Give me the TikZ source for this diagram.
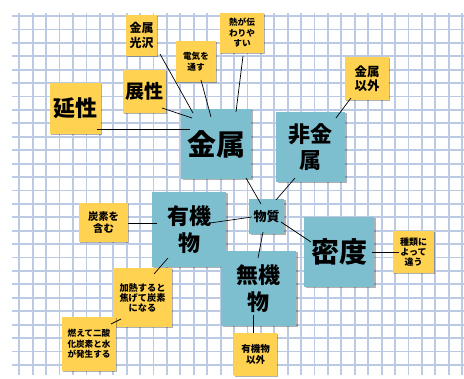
\documentclass[tikz,border=0pt]{standalone}
\usepackage{fontspec}
\setmainfont{Noto Sans CJK JP}
\usetikzlibrary{shadows}
\definecolor{yel}{HTML}{FFD252}
\definecolor{blu}{HTML}{7EBFCF}
\definecolor{gridc}{HTML}{BCCAE3}
\newcommand\fs[2]{\bfseries\fontsize{#1}{#2}\selectfont}
\tikzset{
  gridline/.style={gridc, line width=1.8pt},
  notebox/.style={fill=yel, inner sep=0pt, align=center,
    drop shadow={shadow xshift=1.3pt, shadow yshift=-1.3pt, fill=black, opacity=0.3}},
  keybox/.style={fill=blu, inner sep=0pt, align=center,
    drop shadow={shadow xshift=1.5pt, shadow yshift=-1.5pt, fill=black, opacity=0.3}},
  conn/.style={black, line width=0.7pt}
}
\begin{document}
\begin{tikzpicture}[x=1pt, y=-1pt]
\fill[white] (0,0) rectangle (464,379);
\useasboundingbox (0,0) rectangle (464,379);
% grid
\foreach \k in {0,...,26} \draw[gridline] (12,{16+13.42*\k}) -- (464,{16+13.42*\k});
\foreach \k in {0,...,33} \draw[gridline] ({19.3+13.42*\k},13) -- ({19.3+13.42*\k},375);
% yellow notes
\node[notebox, minimum width=51pt, minimum height=51pt, font=\fs{22}{26}] (entai) at (75.5,108.5) {延性};
\node[notebox, minimum width=43pt, minimum height=43pt, font=\fs{19}{22}] (tensei) at (144.5,91.5) {展性};
\node[notebox, minimum width=31pt, minimum height=41pt, font=\fs{12}{15}] (kotaku) at (141.5,35.5) {金属\\光沢};
\node[notebox, minimum width=40pt, minimum height=41pt, font=\fs{8.6}{11}] (denki) at (196,61.5) {電気を\\通す};
\node[notebox, minimum width=44pt, minimum height=40pt, font=\fs{8.6}{10.5}] (netsu) at (242,33) {熱が伝\\わりや\\すい};
\node[notebox, minimum width=44pt, minimum height=43pt, font=\fs{12.5}{14.5}] (igai) at (367,78.5) {金属\\以外};
\node[notebox, minimum width=49pt, minimum height=39pt, font=\fs{10.3}{11.5}] (tanso) at (103.5,222.5) {炭素を\\含む};
\node[notebox, minimum width=59pt, minimum height=59pt, font=\fs{9.2}{10}] (kanetsu) at (142.5,297.5) {加熱すると\\焦げて炭素\\になる};
\node[notebox, minimum width=54pt, minimum height=54pt, font=\fs{8.6}{10.5}] (moete) at (89,344) {燃えて二酸\\化炭素と水\\が発生する};
\node[notebox, minimum width=41pt, minimum height=42pt, font=\fs{9}{10}] (shurui) at (413.5,252) {種類に\\よって\\違う};
\node[notebox, minimum width=43pt, minimum height=43pt, font=\fs{9.5}{10.5}] (yukiigai) at (255.5,354.5) {有機物\\以外};
% blue boxes
\node[keybox, minimum width=70pt, minimum height=70pt, font=\fs{29}{32}] (kinzoku) at (216,144) {金属};
\node[keybox, minimum width=69pt, minimum height=70pt, font=\fs{22}{26}] (hikinzoku) at (310.5,147) {非金\\属};
\node[keybox, minimum width=35pt, minimum height=35pt, font=\fs{13}{15}] (busshitsu) at (266.5,216.5) {物質};
\node[keybox, minimum width=74pt, minimum height=75pt, font=\fs{22}{27}] (yuuki) at (189,229.5) {有機\\物};
\node[keybox, minimum width=75pt, minimum height=75pt, font=\fs{22}{27}] (muki) at (258.5,288.5) {無機\\物};
\node[keybox, minimum width=70pt, minimum height=70pt, font=\fs{28}{32}] (mitsudo) at (339,252) {密度};
% connectors
\draw[conn] ([shift={(21.5,20.5)}]entai.center) -- ([shift={(-26,-15)}]kinzoku.center);
\draw[conn] ([shift={(17.5,16.5)}]tensei.center) -- ([shift={(-24,-26)}]kinzoku.center);
\draw[conn] ([shift={(18.5,18.5)}]kotaku.center) -- ([shift={(-23,-31)}]kinzoku.center);
\draw[conn] ([shift={(5,18.5)}]denki.center) -- ([shift={(-5,-27)}]kinzoku.center);
\draw[conn] ([shift={(1,23)}]netsu.center) -- ([shift={(20,-32)}]kinzoku.center);
\draw[conn] ([shift={(-16,19.5)}]igai.center) -- ([shift={(25.5,-29)}]hikinzoku.center);
\draw[conn] ([shift={(30,34)}]kinzoku.center) -- ([shift={(-5.5,-12.5)}]busshitsu.center);
\draw[conn] ([shift={(-15.5,31)}]hikinzoku.center) -- ([shift={(9.5,-16.5)}]busshitsu.center);
\draw[conn] ([shift={(21,-6.5)}]yuuki.center) -- ([shift={(-14.5,0.5)}]busshitsu.center);
\draw[conn] ([shift={(-3.5,15.5)}]busshitsu.center) -- ([shift={(-0.5,-30.5)}]muki.center);
\draw[conn] ([shift={(14.5,5.5)}]busshitsu.center) -- ([shift={(-28,-10)}]mitsudo.center);
\draw[conn] ([shift={(33,0)}]mitsudo.center) -- ([shift={(-14.5,0)}]shurui.center);
\draw[conn] ([shift={(24.5,0.5)}]tanso.center) -- ([shift={(-32,-6.5)}]yuuki.center);
\draw[conn] ([shift={(-21,28.5)}]yuuki.center) -- ([shift={(11.5,-23.5)}]kanetsu.center);
\draw[conn] ([shift={(-21.5,21.5)}]kanetsu.center) -- ([shift={(22,-20)}]moete.center);
\draw[conn] ([shift={(-5.5,26.5)}]muki.center) -- ([shift={(-2.5,-21.5)}]yukiigai.center);
\end{tikzpicture}
\end{document}
